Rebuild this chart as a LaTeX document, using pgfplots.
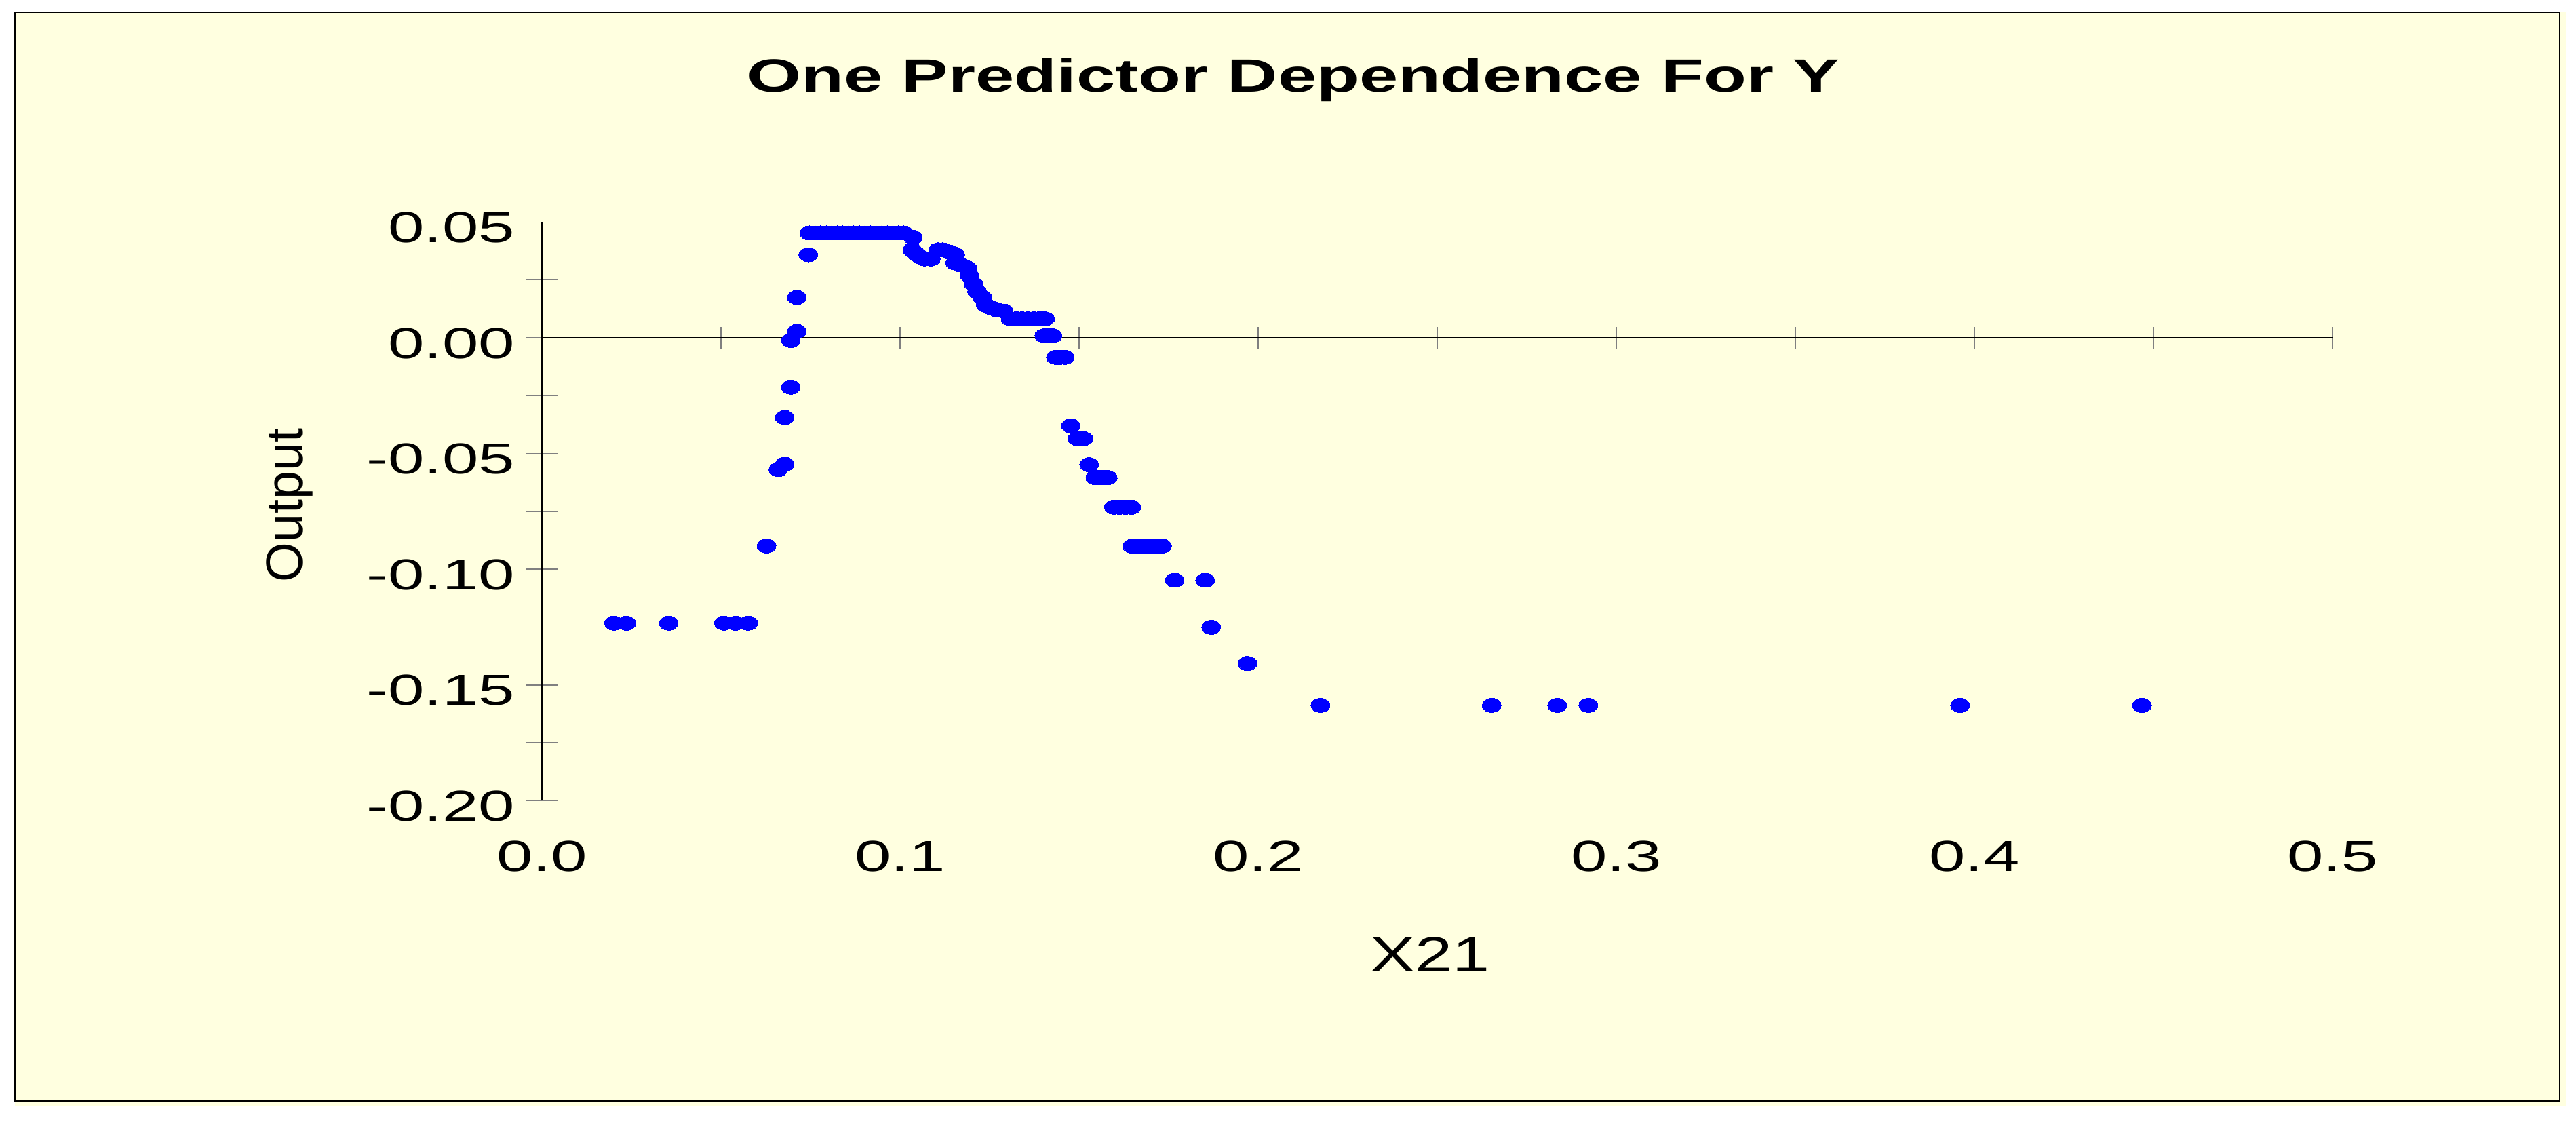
\documentclass[border=0pt]{standalone}
\usepackage{pgfplots}
\pgfplotsset{compat=1.18}
\usepackage{fontspec}
\setmainfont{Liberation Sans}
\newfontfamily\widefont[FakeStretch=1.5]{Liberation Sans}
\newfontfamily\xlabfont[FakeStretch=1.36]{Liberation Sans}
\definecolor{bgyellow}{RGB}{255,255,224}
\definecolor{dotblue}{RGB}{0,0,255}
\newcommand{\tickfont}{\widefont\fontsize{18.2}{20}\selectfont}
\begin{document}
\begin{tikzpicture}
\path[use as bounding box] (0,0) rectangle (37.98,-16.56);
\fill[white] (0,0) rectangle (37.98,-16.56);
\fill[bgyellow] (0.22,-0.18) rectangle (37.83,-16.30);
\draw[line width=0.45pt] (0.22,-0.18) rectangle (37.74,-16.23);
\pgfplotsset{commonaxis/.style={
  scale only axis, width=26.40cm, height=8.53cm,
  xmin=0, xmax=0.5, ymin=-0.2, ymax=0.05,
  anchor=origin, at={(7.99cm,-4.98cm)},
}}
% axis lines and ticks
\begin{axis}[commonaxis,
  axis x line=middle, axis y line=left,
  axis line style={-, line width=0.35pt},
  every inner x axis line/.append style={-},
  every outer y axis line/.append style={-},
  xtick={0.05,0.1,0.15,0.2,0.25,0.3,0.35,0.4,0.45,0.5},
  xticklabel=\empty,
  ytick={-0.2,-0.15,-0.1,-0.05,0,0.05},
  yticklabel=\empty,
  minor ytick={-0.175,-0.125,-0.075,-0.025,0.025},
  xtick align=center, ytick align=center,
  major x tick style={line width=0.5pt, /pgfplots/major tick length=0.32cm},
  major y tick style={line width=0.45pt, /pgfplots/major tick length=0.46cm},
  minor y tick style={line width=0.4pt, /pgfplots/minor tick length=0.46cm},
]
\end{axis}
% labels and data
\begin{axis}[commonaxis, clip=false,
  axis x line=bottom, axis y line=left,
  axis line style={draw=none},
  tick style={draw=none},
  major tick length=0pt, minor tick length=0pt,
  xtick align=inside, ytick align=inside,
  xtick={0,0.1,0.2,0.3,0.4,0.5},
  xticklabels={0.0,0.1,0.2,0.3,0.4,0.5},
  ytick={-0.2,-0.15,-0.1,-0.05,0,0.05},
  yticklabels={-0.20,-0.15,-0.10,-0.05,0.00,0.05},
  xticklabel style={font=\tickfont, anchor=base, inner sep=0pt, yshift=-1.04cm},
  yticklabel style={font=\tickfont, anchor=east, inner sep=0pt, xshift=-0.39cm, yshift=-0.08cm},
  title={One Predictor Dependence For Y},
  title style={at={(rel axis cs:0.4197,1.2)}, anchor=base, font=\widefont\bfseries\fontsize{19.5}{22}\selectfont},
  xlabel={X21},
  xlabel style={at={(rel axis cs:0.4962,-0.2957)}, anchor=base, font=\xlabfont\fontsize{20.7}{24}\selectfont},
  ylabel={Output},
  ylabel style={at={(rel axis cs:-0.1339,0.5108)}, anchor=base, font=\fontsize{21.5}{24}\selectfont},
]
\addplot[only marks, color=dotblue, mark=*, mark size=1.05mm,
  mark options={xscale=1.333, fill=dotblue, draw=dotblue, line width=0pt}]
coordinates {
(0.0201,-0.1233) (0.0236,-0.1233) (0.0354,-0.1233) (0.0508,-0.1233) (0.0541,-0.1233) (0.0576,-0.1233)
(0.0627,-0.0899) (0.0660,-0.0569) (0.0678,-0.0546) (0.0678,-0.0344) (0.0695,-0.0213)
(0.0695,-0.0011) (0.0712,0.0028) (0.0712,0.0175) (0.0744,0.0359)
(0.0747,0.0453) (0.0763,0.0453) (0.0778,0.0453) (0.0794,0.0453) (0.0809,0.0453) (0.0825,0.0453)
(0.0840,0.0453) (0.0856,0.0453) (0.0871,0.0453) (0.0887,0.0453) (0.0902,0.0453) (0.0918,0.0453)
(0.0933,0.0453) (0.0949,0.0453) (0.0964,0.0453) (0.0980,0.0453) (0.0995,0.0453) (0.1011,0.0453)
(0.1036,0.0434) (0.1034,0.0380) (0.1044,0.0365) (0.1057,0.0350) (0.1069,0.0341) (0.1086,0.0341)
(0.1107,0.0380) (0.1119,0.0380) (0.1140,0.0370) (0.1154,0.0360) (0.1154,0.0324) (0.1170,0.0315)
(0.1188,0.0302) (0.1195,0.0268) (0.1206,0.0232) (0.1215,0.0200) (0.1230,0.0175) (0.1239,0.0141)
(0.1255,0.0130) (0.1271,0.0121) (0.1290,0.0116)
(0.1309,0.0082) (0.1325,0.0082) (0.1341,0.0082) (0.1357,0.0082) (0.1373,0.0082) (0.1389,0.0082) (0.1405,0.0082)
(0.1403,0.0009) (0.1415,0.0009) (0.1426,0.0009)
(0.1435,-0.0084) (0.1447,-0.0084) (0.1460,-0.0084)
(0.1477,-0.0380) (0.1495,-0.0436) (0.1512,-0.0436) (0.1528,-0.0548)
(0.1545,-0.0604) (0.1557,-0.0604) (0.1568,-0.0604) (0.1580,-0.0604)
(0.1597,-0.0732) (0.1613,-0.0732) (0.1630,-0.0732) (0.1646,-0.0732)
(0.1648,-0.0900) (0.1665,-0.0900) (0.1682,-0.0900) (0.1699,-0.0900) (0.1716,-0.0900) (0.1732,-0.0900)
(0.1767,-0.1047) (0.1852,-0.1047) (0.1869,-0.1251) (0.1970,-0.1407)
(0.2174,-0.1588) (0.2652,-0.1588) (0.2835,-0.1588) (0.2922,-0.1588) (0.3960,-0.1588) (0.4468,-0.1588)
};
\end{axis}
\end{tikzpicture}
\end{document}
